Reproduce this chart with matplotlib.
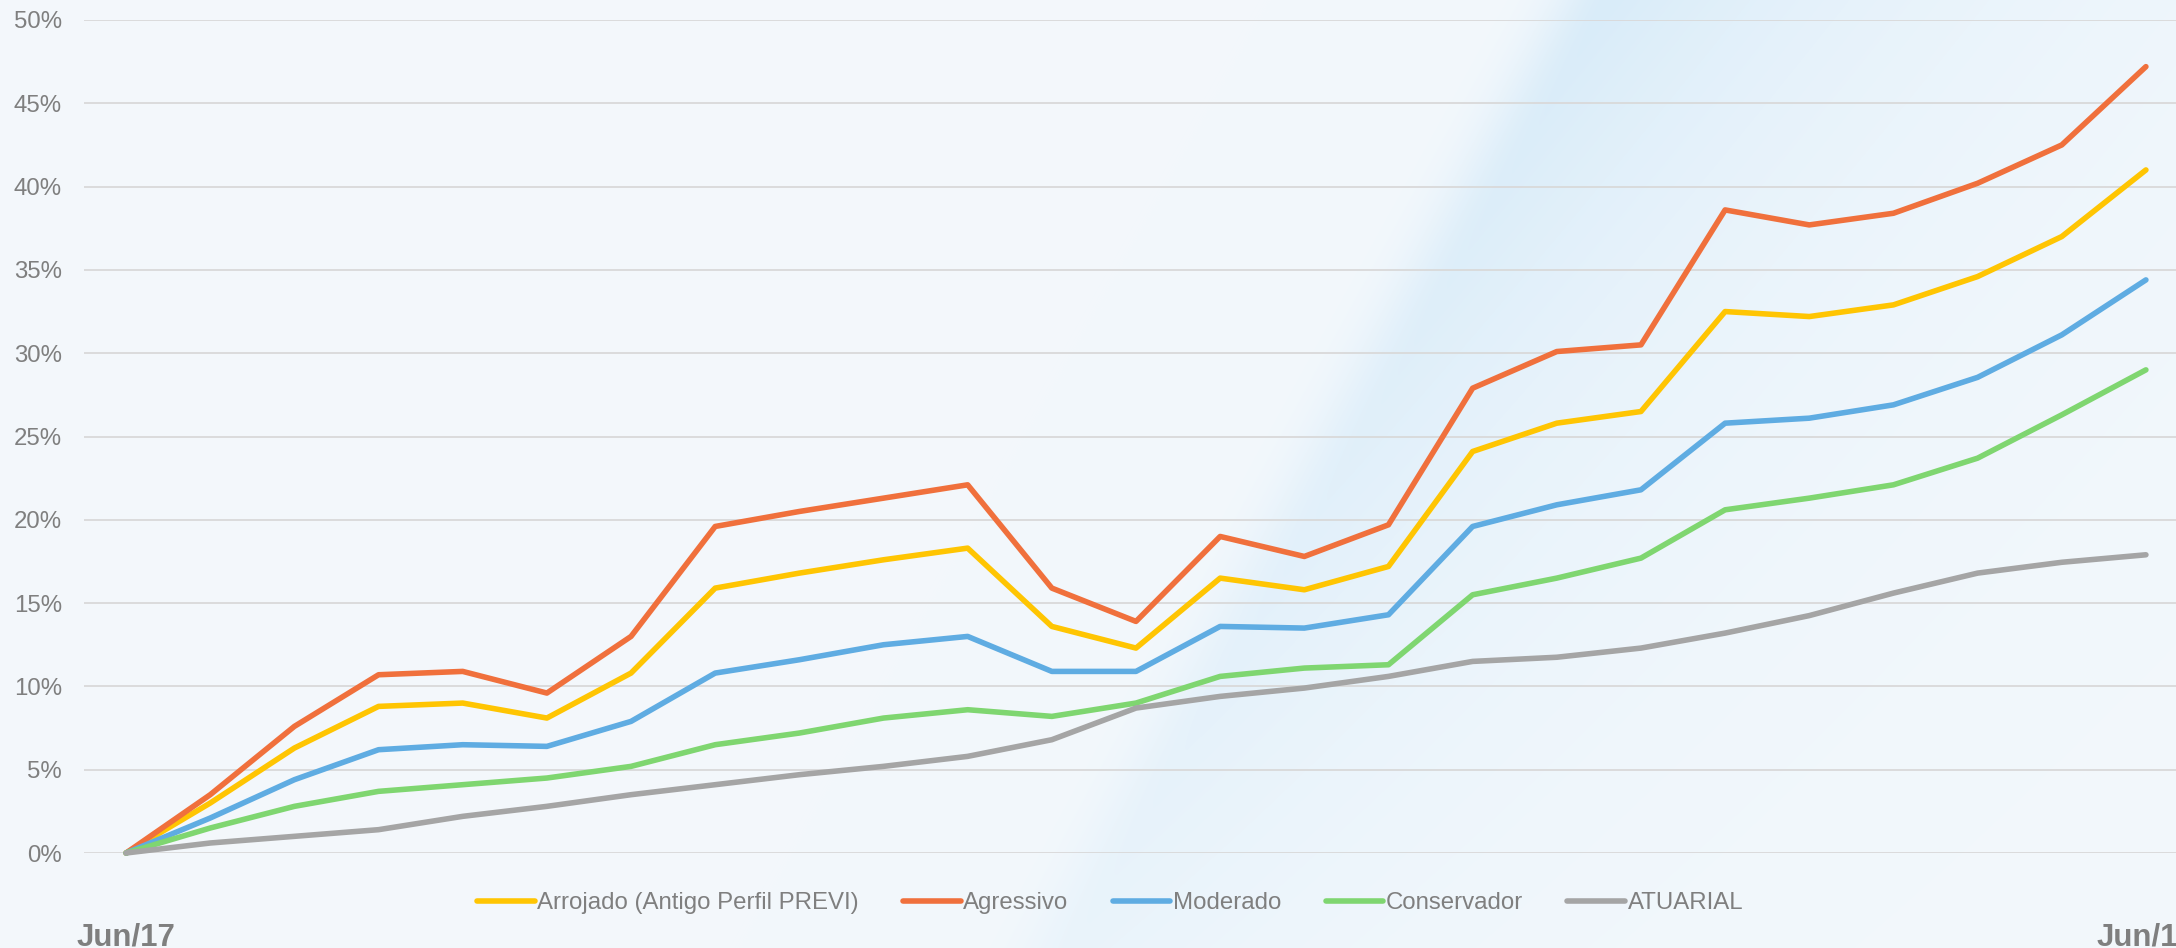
import matplotlib
matplotlib.use("Agg")
import matplotlib.pyplot as plt
import numpy as np

# --- dados (rentabilidade acumulada, %) ---
meses = ['Jun/17', 'Jul/17', 'Ago/17', 'Set/17', 'Out/17', 'Nov/17', 'Dez/17',
         'Jan/18', 'Fev/18', 'Mar/18', 'Abr/18', 'Mai/18', 'Jun/18', 'Jul/18',
         'Ago/18', 'Set/18', 'Out/18', 'Nov/18', 'Dez/18', 'Jan/19', 'Fev/19',
         'Mar/19', 'Abr/19', 'Mai/19', 'Jun/19']

arrojado = [0, 3.0, 6.3, 8.8, 9.0, 8.1, 10.8, 15.9, 16.8, 17.6, 18.3, 13.6, 12.3,
            16.5, 15.8, 17.2, 24.1, 25.8, 26.5, 32.5, 32.2, 32.9, 34.6, 37.0, 41.0]
agressivo = [0, 3.5, 7.6, 10.7, 10.9, 9.6, 13.0, 19.6, 20.5, 21.3, 22.1, 15.9, 13.9,
             19.0, 17.8, 19.7, 27.9, 30.1, 30.5, 38.6, 37.7, 38.4, 40.2, 42.5, 47.2]
moderado = [0, 2.1, 4.4, 6.2, 6.5, 6.4, 7.9, 10.8, 11.6, 12.5, 13.0, 10.9, 10.9,
            13.6, 13.5, 14.3, 19.6, 20.9, 21.8, 25.8, 26.1, 26.9, 28.55, 31.1, 34.4]
conservador = [0, 1.5, 2.8, 3.7, 4.1, 4.5, 5.2, 6.5, 7.2, 8.1, 8.6, 8.2, 9.0,
               10.6, 11.1, 11.3, 15.5, 16.5, 17.7, 20.6, 21.3, 22.1, 23.7, 26.3, 29.0]
atuarial = [0, 0.6, 1.0, 1.4, 2.2, 2.8, 3.5, 4.1, 4.7, 5.2, 5.8, 6.8, 8.7,
            9.4, 9.9, 10.6, 11.5, 11.75, 12.3, 13.2, 14.25, 15.6, 16.8, 17.45, 17.9]

series = [
    ('Arrojado (Antigo Perfil PREVI)', arrojado, '#FFC502'),
    ('Agressivo', agressivo, '#F0703C'),
    ('Moderado', moderado, '#5FACE2'),
    ('Conservador', conservador, '#7FD670'),
    ('ATUARIAL', atuarial, '#A5A5A5'),
]

plt.rcParams['font.family'] = ['Liberation Sans', 'DejaVu Sans']
CINZA = '#7f7f7f'

W, H = 2176, 948
fig = plt.figure(figsize=(W / 100, H / 100), dpi=100)

# --- fundo: azul bem claro com uma faixa diagonal ---
bg = fig.add_axes([0, 0, 1, 1], zorder=-10)
yy, xx = np.mgrid[0:H, 0:W]
# borda esquerda da faixa: de (1610, 0) ate (1075, 948)
x0, y0, x1, y1 = 1610, 0, 1075, 948
nx, ny = (y1 - y0), -(x1 - x0)
nrm = np.hypot(nx, ny)
d = ((xx - x0) * nx + (yy - y0) * ny) / nrm
d = -d if d[0, W - 1] < 0 else d
band = np.where(d < 0, np.exp(-(d / 50.0) ** 2), np.exp(-d / 300.0))
band *= np.clip(1.0 - yy / 1500.0, 0.35, 1.0)
base = np.array([0xF3, 0xF8, 0xFC]) / 255.0
tint = np.array([0xD9, 0xEC, 0xF9]) / 255.0
img = base[None, None, :] * (1 - band[..., None]) + tint[None, None, :] * band[..., None]
bg.imshow(img, aspect='auto', extent=[0, 1, 0, 1], origin='upper')
bg.axis('off')

# --- grafico ---
ax = fig.add_axes([84 / W, 95 / H, (2188 - 84) / W, 833 / H])
ax.set_facecolor('none')
x = np.arange(len(meses))
for nome, vals, cor in series:
    ax.plot(x, vals, color=cor, lw=4.0, label=nome, solid_capstyle='round',
            solid_joinstyle='round', clip_on=False, zorder=3)

ax.set_xlim(-0.5, len(meses) - 0.5)
ax.set_ylim(0, 50)
ax.set_yticks(np.arange(0, 51, 5))
ax.set_yticklabels([f'{v}%' for v in range(0, 51, 5)])
ax.yaxis.grid(True, color='#d9d9d9', lw=1.3)
ax.set_axisbelow(True)
for s in ax.spines.values():
    s.set_visible(False)
ax.tick_params(axis='y', length=0, pad=16, labelsize=17.3, labelcolor=CINZA)

# so o primeiro e o ultimo mes aparecem no eixo
ax.set_xticks([0, len(meses) - 1])
ax.set_xticklabels([meses[0], meses[-1]], fontweight='bold')
ax.tick_params(axis='x', length=0, pad=50, labelsize=22.5, labelcolor=CINZA)

leg = fig.legend(loc='center', bbox_to_anchor=(1110 / W, 1 - 903 / H), ncol=5,
                 frameon=False, fontsize=17.3, handlelength=2.4, handletextpad=0.1,
                 columnspacing=1.85, labelcolor=CINZA)

fig.savefig('out.png', dpi=100)
